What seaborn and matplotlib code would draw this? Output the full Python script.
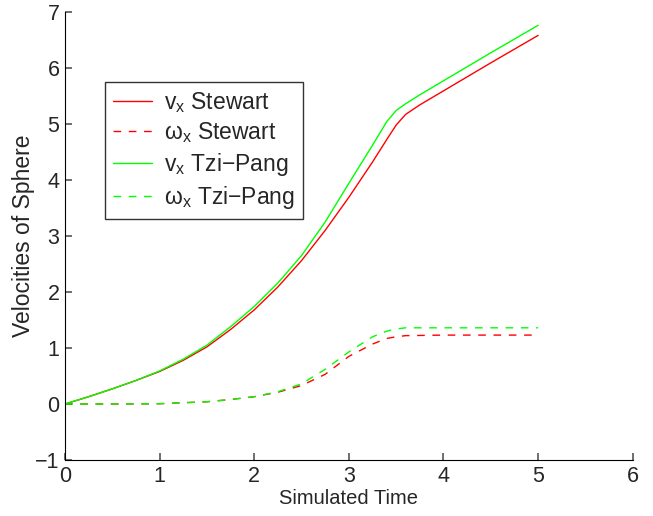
import numpy as np
import pandas as pd
import matplotlib
matplotlib.use("Agg")
import matplotlib.pyplot as plt
import seaborn as sns

# linear velocities
t_v = [0, 0.25, 0.5, 0.75, 1, 1.25, 1.5, 1.75, 2, 2.25, 2.5, 2.75, 3, 3.25, 3.4,
       3.5, 3.6, 3.75, 4, 4.5, 5]
vx_stewart = [0, 0.13, 0.27, 0.42, 0.58, 0.78, 1.02, 1.33, 1.68, 2.09, 2.56, 3.1, 3.69,
              4.32, 4.72, 4.98, 5.17, 5.34, 5.59, 6.09, 6.58]
vx_tzipang = [0, 0.13, 0.27, 0.42, 0.59, 0.8, 1.05, 1.38, 1.74, 2.16, 2.65, 3.25, 3.94,
              4.62, 5.04, 5.24, 5.36, 5.52, 5.77, 6.27, 6.76]

# angular velocities
t_w = [0, 0.5, 1, 1.5, 1.75, 2, 2.25, 2.5, 2.75, 3, 3.25, 3.4, 3.5, 3.6, 4, 5]
wx_stewart = [0, 0, 0.005, 0.04, 0.08, 0.13, 0.21, 0.33, 0.53, 0.85, 1.07, 1.17, 1.2,
              1.22, 1.23, 1.23]
wx_tzipang = [0, 0, 0.005, 0.04, 0.08, 0.13, 0.22, 0.36, 0.62, 0.93, 1.2, 1.3, 1.34,
              1.36, 1.36, 1.36]

labels = [r'$\mathrm{v_x}$ Stewart', r'$\mathrm{\omega_x}$ Stewart',
          r'$\mathrm{v_x}$ Tzi$-$Pang', r'$\mathrm{\omega_x}$ Tzi$-$Pang']

df = pd.concat([
    pd.DataFrame({'t': t_v, 'v': vx_stewart, 'series': labels[0]}),
    pd.DataFrame({'t': t_w, 'v': wx_stewart, 'series': labels[1]}),
    pd.DataFrame({'t': t_v, 'v': vx_tzipang, 'series': labels[2]}),
    pd.DataFrame({'t': t_w, 'v': wx_tzipang, 'series': labels[3]}),
])

sns.set_style("ticks")
plt.rcParams['font.family'] = ['Liberation Sans', 'DejaVu Sans']
plt.rcParams['mathtext.fontset'] = 'custom'
plt.rcParams['mathtext.rm'] = 'Liberation Sans'
plt.rcParams['mathtext.it'] = 'Liberation Sans'

fig = plt.figure(figsize=(6.53, 5.16), dpi=100)
ax = fig.add_axes([0.0995, 0.1085, 0.8695, 0.8685])

palette = {labels[0]: '#ff0000', labels[1]: '#ff0000',
           labels[2]: '#00ff00', labels[3]: '#00ff00'}
dashes = {labels[0]: '', labels[1]: (5.5, 5.5), labels[2]: '', labels[3]: (5.5, 5.5)}

sns.lineplot(data=df, x='t', y='v', hue='series', style='series', hue_order=labels,
             style_order=labels, palette=palette, dashes=dashes, sort=False,
             linewidth=1, ax=ax)

ax.set_xlim(0, 6)
ax.set_ylim(-1, 7)
ax.set_xticks(range(0, 7))
ax.set_yticks(range(-1, 8))
ax.set_yticklabels(['\u22121'] + [str(i) for i in range(0, 8)])
ax.tick_params(bottom=True, left=True, direction='in', length=5, labelsize=15.5,
               color='#555555', width=1.2, pad=4)
ax.spines['top'].set_visible(False)
ax.spines['right'].set_visible(False)
ax.spines['left'].set_color('black')
ax.spines['bottom'].set_color('black')
ax.set_xlabel('Simulated Time', fontsize=14.5, labelpad=2)
ax.set_ylabel('Velocities of Sphere', fontsize=16.5, labelpad=0)

leg = ax.legend(loc='upper left', bbox_to_anchor=(0.07, 0.844), fontsize=16.5,
                frameon=True, fancybox=False, handlelength=1.7, borderpad=0.35,
                labelspacing=0.25, handletextpad=0.55, borderaxespad=0)
leg.get_frame().set_edgecolor('black')
leg.get_frame().set_linewidth(1)
for h in leg.get_lines():
    h.set_linewidth(1)

fig.savefig('out.png', dpi=100)
